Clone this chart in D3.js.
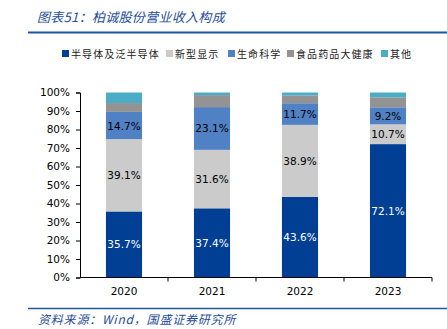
<!DOCTYPE html>
<html>
<head>
<meta charset="utf-8">
<script src="https://cdn.jsdelivr.net/npm/d3@7"></script>
<style>
  body { margin: 0; background: #fff; }
  svg { display: block; }
  .axis text { font-family: "DejaVu Sans", sans-serif; font-size: 10.5px; fill: #000; }
  .axis path, .axis line { stroke: #000; }
</style>
</head>
<body>
<div id="chart"></div>
<script>
const years = ['2020', '2021', '2022', '2023'];
const seriesNames = ['半导体及泛半导体', '新型显示', '生命科学', '食品药品大健康', '其他'];
const semiconductor = [35.7, 37.4, 43.6, 72.1];
const display = [39.1, 31.6, 38.9, 10.7];
const lifeScience = [14.7, 23.1, 11.7, 9.2];
const foodHealth = [4.8, 6.5, 4.2, 5.4];
const others = [5.7, 1.4, 1.6, 2.6];
const yTicks = [0, 10, 20, 30, 40, 50, 60, 70, 80, 90, 100];

const colors = ['#003f94', '#cbcbcb', '#4f81c4', '#939393', '#4bacc6'];
const labelColors = ['#fff', '#000', '#000'];
const seriesValues = [semiconductor, display, lifeScience, foodHealth, others];

const width = 447;
const height = 329;

const svg = d3.select('#chart')
  .append('svg')
  .attr('width', width)
  .attr('height', height);

// title + rule
svg.append('text')
  .attr('x', 37)
  .attr('y', 22)
  .attr('fill', '#1f4e9a')
  .style('font-family', '"Noto Sans CJK SC", sans-serif')
  .style('font-style', 'italic')
  .style('font-size', '13px')
  .style('letter-spacing', '0.3px')
  .text('图表51：柏诚股份营业收入构成');

svg.append('line')
  .attr('x1', 28).attr('x2', 447)
  .attr('y1', 32.5).attr('y2', 32.5)
  .attr('stroke', '#1f55a5').attr('stroke-width', 2);

// legend
const legendX = [62, 166, 228, 287, 381];
const legend = svg.append('g').attr('class', 'legend');
seriesNames.forEach((name, i) => {
  const g = legend.append('g').attr('transform', `translate(${legendX[i]}, 50)`);
  g.append('rect').attr('width', 7).attr('height', 7).attr('fill', colors[i]);
  g.append('text')
    .attr('x', 9)
    .attr('y', 7.5)
    .style('font-family', '"Noto Sans CJK SC", sans-serif')
    .style('font-size', '10px')
    .style('letter-spacing', '1.1px')
    .attr('fill', '#222')
    .text(name);
});

// plot
const xScale = d3.scaleBand().domain(years).range([80, 432]).paddingInner(0.59).paddingOuter(0.295);
const xAxisScale = d3.scaleBand().domain(years).range([80, 432]);
const yScale = d3.scaleLinear().domain([0, 100]).range([277.5, 92.5]);

const stacked = d3.stack()
  .keys(d3.range(seriesNames.length))
  .value((d, k) => seriesValues[k][d])(d3.range(years.length));

const layers = svg.append('g').attr('class', 'bars')
  .selectAll('g')
  .data(stacked)
  .join('g')
  .attr('fill', (d, i) => colors[i]);

layers.selectAll('rect')
  .data((d) => d)
  .join('rect')
  .attr('x', (d) => xScale(years[d.data]))
  .attr('y', (d) => yScale(d[1]))
  .attr('width', xScale.bandwidth())
  .attr('height', (d) => yScale(d[0]) - yScale(d[1]));

// value labels for first three series
const labels = svg.append('g').attr('class', 'labels');
stacked.slice(0, 3).forEach((layer, i) => {
  labels.selectAll(null)
    .data(layer)
    .join('text')
    .attr('x', (d) => xScale(years[d.data]) + xScale.bandwidth() / 2)
    .attr('y', (d) => (yScale(d[0]) + yScale(d[1])) / 2 + 4)
    .attr('text-anchor', 'middle')
    .attr('fill', labelColors[i])
    .style('font-family', '"DejaVu Sans", sans-serif')
    .style('font-size', '10.5px')
    .text((d) => seriesValues[i][d.data].toFixed(1) + '%');
});

// axes
svg.append('g')
  .attr('class', 'axis')
  .attr('transform', 'translate(80, 0)')
  .call(d3.axisLeft(yScale).tickValues(yTicks).tickSize(4).tickPadding(6).tickFormat((d) => d + '%'));

svg.append('g')
  .attr('class', 'axis')
  .attr('transform', 'translate(0, 277.5)')
  .call(d3.axisBottom(xAxisScale).tickSize(0).tickPadding(10))
  .call((g) => g.select('.domain').attr('d', 'M80,0H432'));

// category separators on the x axis
svg.append('g')
  .selectAll('line')
  .data(years)
  .join('line')
  .attr('x1', (d) => xAxisScale(d) + xAxisScale.bandwidth())
  .attr('x2', (d) => xAxisScale(d) + xAxisScale.bandwidth())
  .attr('y1', 277.5).attr('y2', 281.5)
  .attr('stroke', '#000');

// source + rule
svg.append('line')
  .attr('x1', 28).attr('x2', 447)
  .attr('y1', 308.5).attr('y2', 308.5)
  .attr('stroke', '#1f55a5').attr('stroke-width', 1.5);

svg.append('text')
  .attr('x', 38)
  .attr('y', 324)
  .attr('fill', '#1f4e9a')
  .style('font-family', '"Noto Sans CJK SC", sans-serif')
  .style('font-style', 'italic')
  .style('font-size', '12px')
  .style('letter-spacing', '0.8px')
  .text('资料来源：Wind，国盛证券研究所');
</script>
</body>
</html>
